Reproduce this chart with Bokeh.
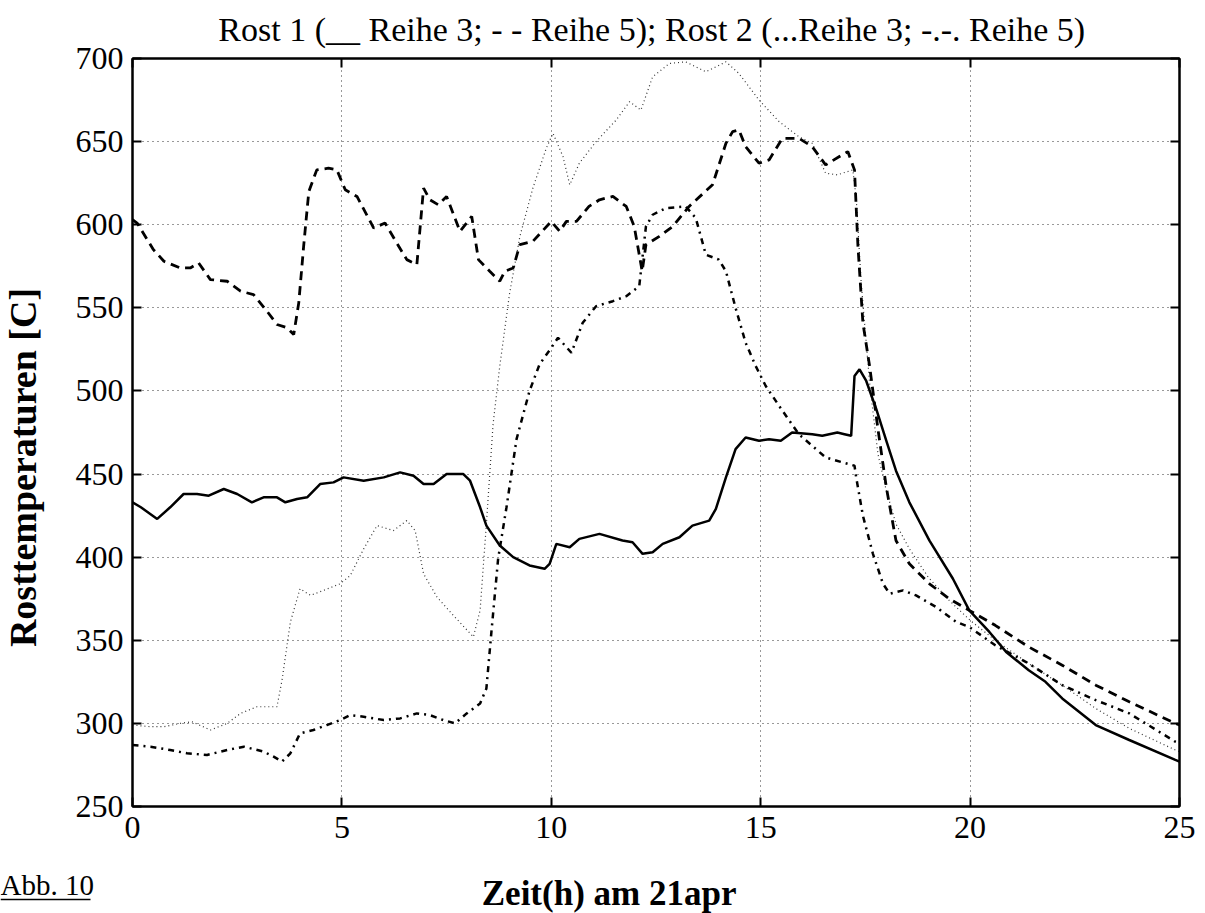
from math import pi

from bokeh.core.properties import value
from bokeh.embed import file_html
from bokeh.layouts import column, row
from bokeh.models import CustomJSTickFormatter, FixedTicker, LinearAxis, Range1d
from bokeh.plotting import figure
from bokeh.resources import INLINE

# Zeit in Stunden und Rosttemperaturen in C, je Rost und Reihe
t_r1_r3 = [0, 0.2, 0.59, 0.9, 1.22, 1.54, 1.82, 2.18, 2.5, 2.85, 3.13, 3.45, 3.65,
           3.93, 4.17, 4.48, 4.8, 5.04, 5.52, 6.0, 6.39, 6.71, 6.95, 7.19, 7.5, 7.9,
           8.06, 8.3, 8.45, 8.77, 9.09, 9.48, 9.84, 9.96, 10.12, 10.44, 10.67, 11.15,
           11.7, 11.94, 12.18, 12.42, 12.66, 13.06, 13.37, 13.77, 13.93, 14.17, 14.4,
           14.64, 14.96, 15.2, 15.48, 15.75, 16.23, 16.47, 16.83, 17.0, 17.16, 17.24,
           17.36, 17.52, 17.76, 18.0, 18.23, 18.55, 19.03, 19.59, 19.98, 20.46, 20.86,
           21.4, 21.8, 22.2, 23.0, 23.8, 24.9, 25.0]
v_r1_r3 = [433, 430, 423, 430, 438, 438, 437, 441, 438, 433, 436, 436, 433,
           435, 436, 444, 445, 448, 446, 448, 451, 449, 444, 444, 450, 450,
           446, 430, 419, 407, 400, 395, 393, 396, 408, 406, 411, 414,
           410, 409, 402, 403, 408, 412, 419, 422, 429, 448, 465,
           472, 470, 471, 470, 475, 474, 473, 475, 474, 473, 509,
           513, 506, 489, 470, 452, 433, 410, 387, 368, 355, 343,
           332, 325, 315, 299, 290, 278, 277]

t_r1_r5 = [0, 0.11, 0.5, 0.75, 1.14, 1.38, 1.58, 1.86, 2.26, 2.58, 2.89, 3.21, 3.45,
           3.69, 3.85, 3.97, 4.09, 4.21, 4.4, 4.68, 4.88, 5.08, 5.36, 5.76, 6.03, 6.31,
           6.55, 6.79, 6.95, 7.1, 7.3, 7.5, 7.82, 8.1, 8.26, 8.53, 8.77, 8.89, 9.09,
           9.25, 9.56, 10.0, 10.2, 10.36, 10.6, 10.9, 11.15, 11.47, 11.79, 11.98, 12.1,
           12.17, 12.26, 12.58, 12.9, 13.29, 13.85, 14.17, 14.33, 14.48, 14.64, 14.96,
           15.2, 15.52, 15.91, 16.23, 16.55, 16.88, 17.08, 17.24, 17.32, 17.44, 17.6,
           17.8, 18.0, 18.23, 18.55, 19.03, 19.5, 19.98, 20.6, 21.4, 22.2, 23.0, 23.8,
           24.9, 25.0]
v_r1_r5 = [603, 601, 585, 578, 574, 574, 577, 567, 566, 560, 558, 548, 540,
           538, 534, 553, 588, 620, 633, 634, 633, 621, 617, 598, 601, 589,
           579, 576, 622, 615, 612, 617, 596, 605, 579, 572, 566, 572, 574,
           588, 590, 602, 596, 602, 602, 611, 615, 617, 611, 599, 582,
           572, 588, 593, 599, 611, 624, 649, 656, 657, 647, 637,
           639, 652, 652, 647, 636, 641, 644, 633, 588, 541, 515,
           477, 442, 410, 396, 384, 375, 368, 359, 346, 335, 323, 313,
           300, 299]

t_r2_r3 = [0, 0.43, 0.75, 1.14, 1.42, 1.86, 2.26, 2.58, 2.97, 3.45, 3.57, 3.77, 4.0,
           4.25, 4.56, 4.96, 5.2, 5.52, 5.84, 6.23, 6.55, 6.75, 6.95, 7.27, 7.66, 8.14,
           8.3, 8.45, 8.61, 8.77, 9.0, 9.25, 9.56, 9.88, 10.04, 10.28, 10.44, 10.67,
           11.07, 11.55, 11.87, 12.14, 12.42, 12.82, 13.21, 13.69, 14.17, 14.48, 14.96,
           15.44, 15.91, 16.23, 16.55, 16.83, 17.2, 17.28, 17.4, 17.6, 17.8, 18.0,
           18.23, 18.55, 19.0, 19.5, 20.0, 20.6, 21.4, 22.2, 23.0, 23.8, 24.9, 25.0]
v_r2_r3 = [299, 298, 298, 300, 301, 296, 300, 306, 310, 310, 326, 361, 381,
           377, 380, 384, 389, 405, 419, 416, 422, 416, 390, 376, 365, 352,
           368, 420, 480, 515, 558, 593, 622, 646, 655, 641, 624, 637,
           650, 663, 674, 669, 689, 697, 698, 692, 698, 691, 675,
           662, 653, 649, 631, 630, 633, 616, 565, 505, 462, 440,
           420, 405, 388, 374, 362, 350, 336, 323, 309, 297, 284, 283]

t_r2_r5 = [0, 0.43, 0.9, 1.3, 1.78, 2.26, 2.66, 3.13, 3.37, 3.57, 3.77, 4.0, 4.32,
           4.64, 4.96, 5.2, 5.52, 6.0, 6.39, 6.79, 7.1, 7.42, 7.7, 7.98, 8.3, 8.45,
           8.57, 8.73, 8.93, 9.17, 9.48, 9.72, 10.0, 10.16, 10.48, 10.75, 11.07, 11.47,
           11.79, 12.1, 12.26, 12.42, 12.74, 13.21, 13.45, 13.69, 14.0, 14.17, 14.4,
           14.64, 14.88, 15.12, 15.44, 15.91, 16.23, 16.55, 16.96, 17.24, 17.28, 17.44,
           17.68, 17.92, 18.08, 18.4, 18.71, 19.19, 19.67, 19.98, 20.6, 21.4, 22.2,
           23.0, 23.8, 24.9, 25.0]
v_r2_r5 = [287, 286, 284, 282, 281, 284, 286, 283, 280, 277, 282, 294, 296,
           299, 302, 305, 304, 302, 303, 306, 305, 302, 300, 306, 312, 321,
           355, 399, 430, 471, 500, 516, 526, 532, 523, 541, 551, 554,
           557, 563, 599, 606, 610, 611, 604, 582, 579, 572, 550,
           529, 515, 503, 491, 474, 467, 460, 457, 455, 448, 425,
           402, 384, 378, 380, 377, 370, 361, 358, 347, 336, 323,
           314, 306, 289, 288]

x_ticks = [0, 5, 10, 15, 20, 25]
y_ticks = [250, 300, 350, 400, 450, 500, 550, 600, 650, 700]

title_text = "Rost 1 (__ Reihe 3; - - Reihe 5);  Rost 2 (...Reihe 3; -.-. Reihe 5)"
x_label = "Zeit(h) am 21apr"
y_label = "Rosttemperaturen [C]"
fig_label = "Abb. 10"

SERIF = "Liberation Serif"

# Seitenaufteilung in Pixeln
W, H = 1205, 913
SIDE_W = 50            # Streifen mit dem y-Achsentitel
FRAME_L, FRAME_R = 132, 1179
FRAME_T, FRAME_B = 58, 806
MAIN_B = 860           # Unterkante der Hauptgrafik (mit Skalenwerten)
HPP = 25 / (FRAME_R - FRAME_L)   # Stunden je Pixel


def strip(width, height, x_range, y_range):
    """Leere Flaeche ohne Achsen, deren Zeichenbereich die ganze Flaeche fuellt."""
    f = figure(width=width, height=height, output_backend="svg",
               toolbar_location=None, x_axis_type=None, y_axis_type=None,
               x_range=x_range, y_range=y_range,
               min_border_left=0, min_border_right=0, min_border_top=0,
               min_border_bottom=0, outline_line_color=None,
               background_fill_color="white", border_fill_color="white")
    f.grid.visible = False
    f.frame_align = False
    return f


p = figure(width=W - SIDE_W, height=MAIN_B, output_backend="svg",
           toolbar_location=None,
           x_range=Range1d(0, 25), y_range=Range1d(250, 700),
           min_border_left=FRAME_L - SIDE_W, min_border_right=W - FRAME_R,
           min_border_top=FRAME_T, min_border_bottom=MAIN_B - FRAME_B,
           background_fill_color="white", border_fill_color="white")
p.frame_align = False
p.outline_line_color = "black"
p.outline_line_width = 2

# Titel ueber dem Diagramm
p.title.text = title_text
p.title.align = "center"
p.title.vertical_align = "top"
p.title.text_font = SERIF
p.title.text_font_size = "34px"
p.title.text_font_style = "normal"
p.title.text_line_height = 1.0
p.title.text_color = "black"
p.title.standoff = 18

# Achsen im Kastenstil mit Teilstrichen nach innen
for ax in (p.xaxis[0], p.yaxis[0]):
    ax.axis_line_width = 2
    ax.major_tick_in = 9
    ax.major_tick_out = 0
    ax.major_tick_line_width = 2
    ax.minor_tick_line_color = None
    ax.major_label_text_font = SERIF
    ax.major_label_text_font_size = "32px"
    ax.major_label_text_color = "black"
p.xaxis[0].major_label_standoff = 10
p.yaxis[0].major_label_standoff = 9
p.xaxis[0].ticker = FixedTicker(ticks=x_ticks)
p.yaxis[0].ticker = FixedTicker(ticks=y_ticks)

blank = CustomJSTickFormatter(code="return ''")
p.add_layout(LinearAxis(ticker=FixedTicker(ticks=y_ticks), formatter=blank,
                        major_tick_in=9, major_tick_out=0, major_tick_line_width=2,
                        minor_tick_line_color=None, axis_line_width=2,
                        major_label_text_font_size="1px"), "right")
p.add_layout(LinearAxis(ticker=FixedTicker(ticks=x_ticks), formatter=blank,
                        major_tick_in=9, major_tick_out=0, major_tick_line_width=2,
                        minor_tick_line_color=None, axis_line_width=2,
                        major_label_text_font_size="1px", major_label_standoff=0),
             "above")

p.xgrid.ticker = FixedTicker(ticks=x_ticks)
p.ygrid.ticker = FixedTicker(ticks=y_ticks)
for g in (p.xgrid, p.ygrid):
    g.grid_line_color = "black"
    g.grid_line_alpha = 0.8
    g.grid_line_width = 1
    g.grid_line_dash = "1 4"

# Messkurven
p.line(t_r2_r3, v_r2_r3, line_color="#333333", line_width=1.2, line_dash="1 3")
p.line(t_r2_r5, v_r2_r5, line_color="black", line_width=2.5, line_dash="6 5 2 5")
p.line(t_r1_r5, v_r1_r5, line_color="black", line_width=2.8, line_dash="9 6")
p.line(t_r1_r3, v_r1_r3, line_color="black", line_width=2.5)

# Streifen links mit dem y-Achsentitel (y in Bildzeilen)
side = strip(SIDE_W, MAIN_B, Range1d(0, SIDE_W), Range1d(MAIN_B, 0))
side.text(x=[22], y=[467], text=[y_label], text_font=value(SERIF),
          text_font_size="38px", text_font_style="bold", angle=pi / 2,
          text_align="center", text_baseline="middle", text_color="black")

# Fusszeile: Abbildungsnummer und Zeitachsentitel (x in Stunden)
x0 = -FRAME_L * HPP
cap = strip(W, H - MAIN_B, Range1d(x0, 25 + (W - FRAME_R) * HPP),
            Range1d(H, MAIN_B))
cap.text(x=[11.38], y=[893], text=[x_label], text_font=value(SERIF),
         text_font_size="35px", text_font_style="bold", text_align="center",
         text_baseline="middle", text_color="black")
cap.text(x=[x0], y=[884], text=[fig_label], text_font=value(SERIF),
         text_font_size="29px", text_align="left", text_baseline="middle",
         text_color="black")
cap.line(x=[x0, x0 + 90 * HPP], y=[899, 899], line_color="black", line_width=1.5)

layout = column(row(side, p, spacing=0), cap, spacing=0)
open("out.html", "w").write(file_html(layout, INLINE))
